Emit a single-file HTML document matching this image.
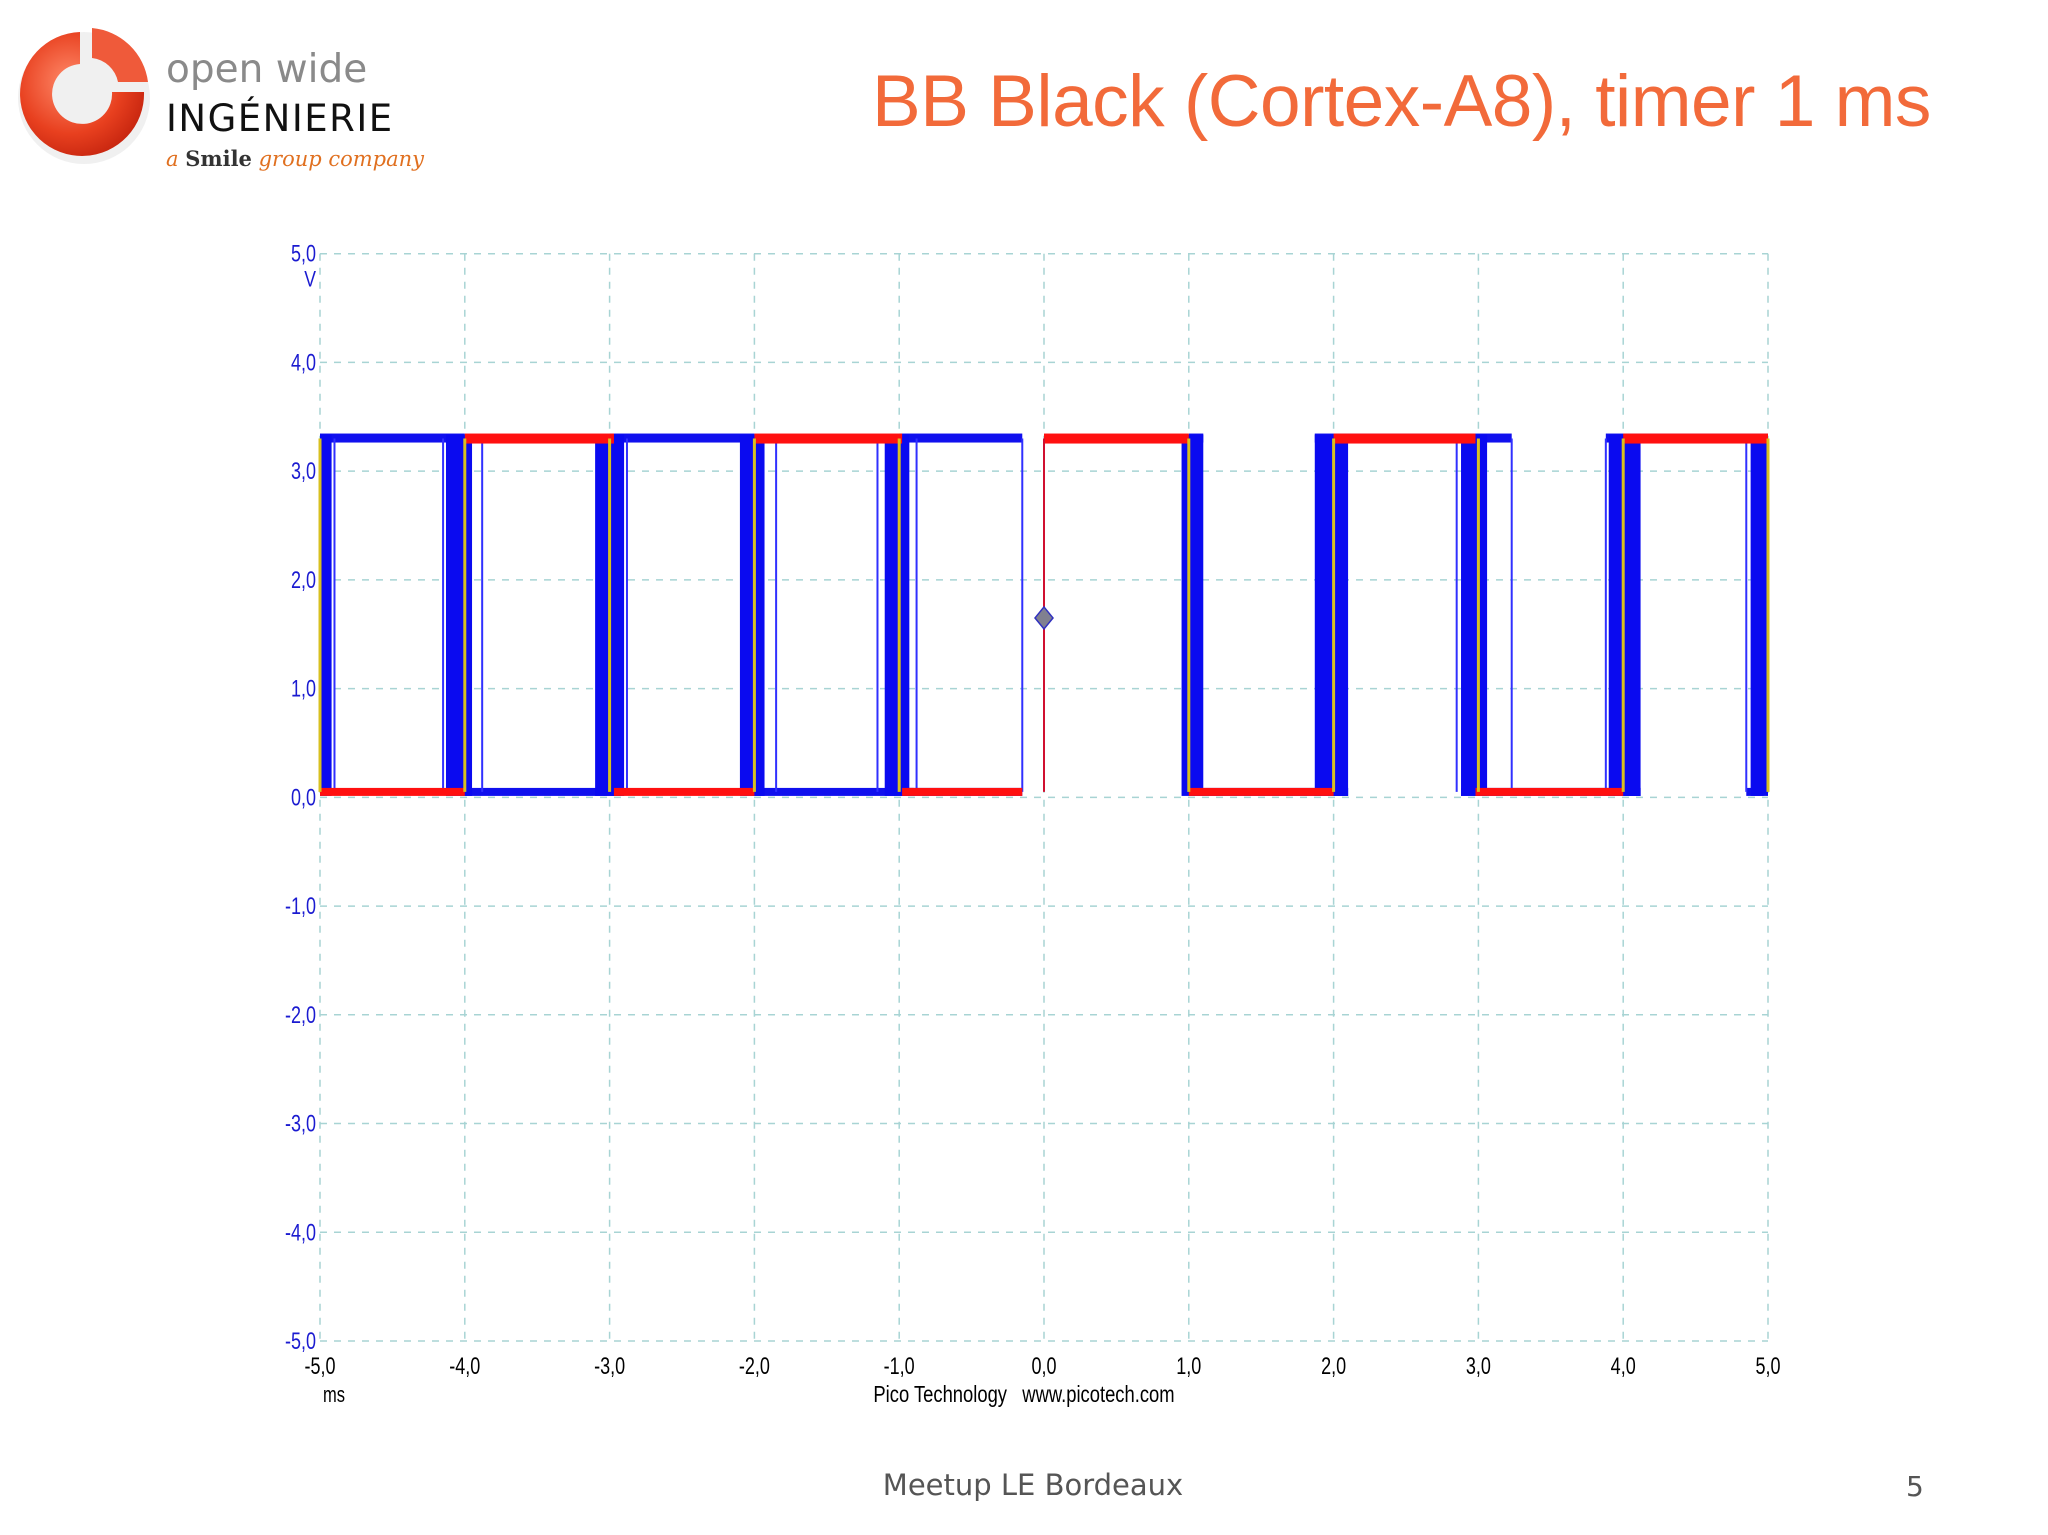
<!DOCTYPE html>
<html><head><meta charset="utf-8">
<style>
html,body{margin:0;padding:0;background:#fff;}
body{width:2048px;height:1535px;position:relative;overflow:hidden;font-family:"Liberation Sans",sans-serif;}
.title{position:absolute;left:872px;top:60px;font-size:73px;color:#f26a3a;white-space:nowrap;letter-spacing:-0.5px;}
.footer{position:absolute;left:0;width:2066px;text-align:center;top:1468px;font-size:29px;color:#555;font-family:"DejaVu Sans","Liberation Sans",sans-serif;}
.pagenum{position:absolute;left:1906px;top:1470px;font-size:28px;color:#555;font-family:"DejaVu Sans",sans-serif;}
</style></head>
<body>
<svg width="460" height="190" style="position:absolute;left:0;top:0">
  <defs>
    <radialGradient id="rg" cx="40%" cy="40%" r="70%">
      <stop offset="0" stop-color="#ff8a6a"/><stop offset="0.6" stop-color="#e8401f"/><stop offset="1" stop-color="#c0200c"/>
    </radialGradient>
  </defs>
  <circle cx="84" cy="98" r="66" fill="#e6e6e6" opacity="0.6"/>
  <path d="M 80 32 A 62 62 0 1 0 144 92 L 112 92 A 30 30 0 1 1 80 64 Z" fill="url(#rg)"/>
  <path d="M 92 28 A 62 62 0 0 1 148 82 L 118 82 A 30 30 0 0 0 92 58 Z" fill="#ef5a3a"/>
  <text x="166" y="82" font-size="39" fill="#8a8a8a" font-family="DejaVu Sans,sans-serif">open wide</text>
  <text x="166" y="131" font-size="37" fill="#111" letter-spacing="1.5" font-family="DejaVu Sans,sans-serif">INGÉNIERIE</text>
  <text x="166" y="166" font-size="21" font-family="DejaVu Serif,serif"><tspan fill="#e07020" font-style="italic">a </tspan><tspan fill="#333" font-weight="bold">Smile</tspan><tspan fill="#e07020" font-style="italic"> group company</tspan></text>
</svg>
<div class="title">BB Black (Cortex-A8), timer 1 ms</div>

<svg id="chart" width="2048" height="1535" style="position:absolute;left:0;top:0"></svg>

<div class="footer">Meetup LE Bordeaux</div>
<div class="pagenum">5</div>

<script>
const xTicks = [-5,-4,-3,-2,-1,0,1,2,3,4,5];
const yTicks = [5,4,3,2,1,0,-1,-2,-3,-4,-5];
const xTickLabels = ["-5,0","-4,0","-3,0","-2,0","-1,0","0,0","1,0","2,0","3,0","4,0","5,0"];
const yTickLabels = ["5,0","4,0","3,0","2,0","1,0","0,0","-1,0","-2,0","-3,0","-4,0","-5,0"];
const highLevel = 3.3;
const lowLevel = 0.05;
const redHighStart = [-4.0,-2.0,0.0,2.0,4.0];
const redHighEnd = [-2.97,-0.98,1.0,2.98,5.0];
const redLowStart = [-5.0,-2.97,-0.98,1.0,2.98];
const redLowEnd = [-4.0,-2.0,-0.15,2.0,4.0];
const blueHighStart = [-5.0,-3.0,-1.0,1.0,1.87,3.88];
const blueHighEnd = [-4.0,-2.0,-0.15,1.1,3.23,5.0];
const blueLowStart = [-4.0,-2.0,-0.98,1.0,1.87,2.88,3.9,4.85];
const blueLowEnd = [-2.9,-0.9,-0.15,2.1,2.1,4.12,4.12,4.97];
const bandStart = [-5.0,-4.13,-3.1,-2.1,-1.1,0.95,1.87,2.88,3.9,4.88];
const bandEnd = [-4.92,-3.95,-2.9,-1.93,-0.93,1.1,2.1,3.06,4.12,5.0];
const thinEdges = [-4.9,-4.15,-3.88,-2.88,-1.85,-1.15,-0.15,-0.88,2.85,3.23,1.88,3.88,4.85];
const yellowEdges = [-5,-4,-3,-2,-1,1,2,3,4,5];
const triggerTime = 0;
const triggerLevel = 1.65;

const X0=320, X1=1768, Y0=253.7, Y1=1341;
const xs = t => X0 + (t+5)/10*(X1-X0);
const ys = v => Y0 + (5-v)/10*(Y1-Y0);
const svg = document.getElementById('chart');
const NS='http://www.w3.org/2000/svg';
function mk(tag, attrs){const e=document.createElementNS(NS,tag);for(const k in attrs)e.setAttribute(k,attrs[k]);svg.appendChild(e);return e;}

// grid
xTicks.forEach((t,i)=>{
  const l=mk('line',{x1:xs(t),x2:xs(t),y1:Y0,y2:Y1,stroke:'#a8d4d4','stroke-width':1.5,'stroke-dasharray':'7,7'});
  
  
  const tx=mk('text',{x:xs(t),y:Y1+33,'font-size':24,fill:'#000','text-anchor':'middle',transform:`translate(${xs(t)},0) scale(0.75,1) translate(${-xs(t)},0)`});
  tx.textContent=xTickLabels[i];
  
  
});
yTicks.forEach((v,i)=>{
  const l=mk('line',{x1:X0,x2:X1,y1:ys(v),y2:ys(v),stroke:'#a8d4d4','stroke-width':1.5,'stroke-dasharray':'7,7'});
  
  
  const tx=mk('text',{x:X0-4,y:ys(v)+8,'font-size':24,fill:'#1a1ad0','text-anchor':'end',transform:`translate(${X0-4},0) scale(0.75,1) translate(${-(X0-4)},0)`});
  tx.textContent=yTickLabels[i];
  
  
});
let u=mk('text',{x:X0-4,y:ys(5)+33,'font-size':22,fill:'#1a1ad0','text-anchor':'end',transform:`translate(${X0-4},0) scale(0.8,1) translate(${-(X0-4)},0)`});
u.textContent='V';


u=mk('text',{x:xs(-5)+14,y:Y1+61,'font-size':22,fill:'#000','text-anchor':'middle',transform:`translate(${xs(-5)+14},0) scale(0.75,1) translate(${-(xs(-5)+14)},0)`});
u.textContent='ms';


u=mk('text',{x:1024,y:Y1+61,'font-size':23,fill:'#000','text-anchor':'middle','xml:space':'preserve',transform:`translate(1024,0) scale(0.8,1) translate(-1024,0)`});
u.textContent='Pico Technology\u00a0\u00a0\u00a0www.picotech.com';



// blue horizontal traces
blueHighStart.forEach((s,i)=>{
  const r=mk('rect',{x:xs(s),y:ys(highLevel)-5,width:xs(blueHighEnd[i])-xs(s),height:9,fill:'#1010ee'});
  
  
});
blueLowStart.forEach((s,i)=>{
  const r=mk('rect',{x:xs(s),y:ys(lowLevel)-4,width:xs(blueLowEnd[i])-xs(s),height:8,fill:'#1010ee'});
  
  
});
thinEdges.forEach(t=>{
  const l=mk('line',{x1:xs(t),x2:xs(t),y1:ys(highLevel),y2:ys(lowLevel),stroke:'#3030ff','stroke-width':2});
  
  
});
bandStart.forEach((s,i)=>{
  const r=mk('rect',{x:xs(s),y:ys(highLevel)-4,width:xs(bandEnd[i])-xs(s),height:ys(lowLevel)-ys(highLevel)+8,fill:'#0a0af0'});
  
  
});
redHighStart.forEach((s,i)=>{
  const r=mk('rect',{x:xs(s),y:ys(highLevel)-5,width:xs(redHighEnd[i])-xs(s),height:10,fill:'#ff1010'});
  
  
});
redLowStart.forEach((s,i)=>{
  const r=mk('rect',{x:xs(s),y:ys(lowLevel)-4,width:xs(redLowEnd[i])-xs(s),height:8,fill:'#ff1010'});
  
  
});
yellowEdges.forEach(t=>{
  const l=mk('line',{x1:xs(t),x2:xs(t),y1:ys(highLevel),y2:ys(lowLevel),stroke:'#d8c020','stroke-width':3});
  
  
});
let te=mk('line',{x1:xs(triggerTime),x2:xs(triggerTime),y1:ys(highLevel),y2:ys(lowLevel),stroke:'#d01030','stroke-width':2});


const tx0=xs(triggerTime), ty0=ys(triggerLevel);
let tm=mk('polygon',{points:`${tx0},${ty0-11} ${tx0+9},${ty0} ${tx0},${ty0+11} ${tx0-9},${ty0}`,fill:'#808090',stroke:'#3030c0','stroke-width':1.5});


</script>
</body></html>
